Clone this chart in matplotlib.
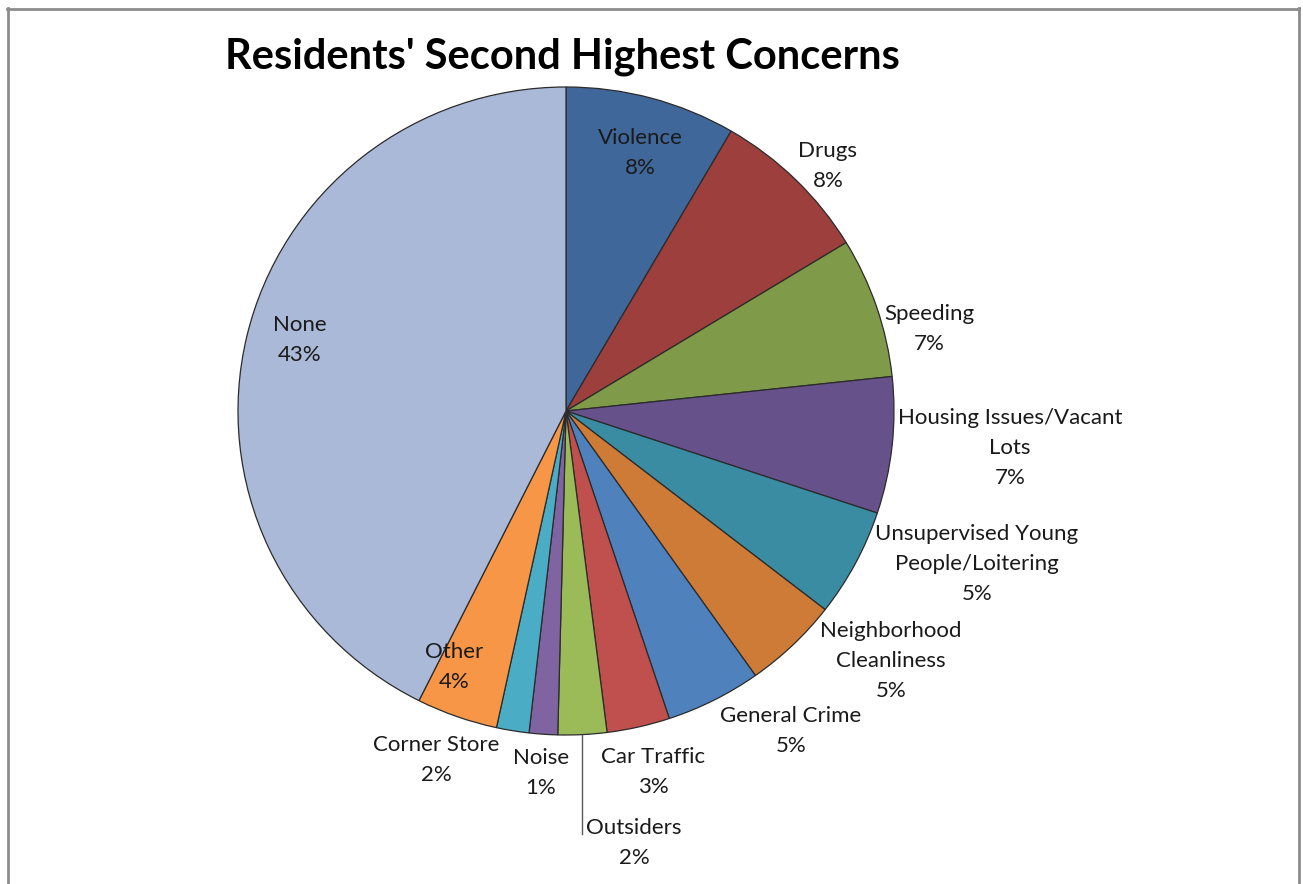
import matplotlib.pyplot as plt
from matplotlib.lines import Line2D
import numpy as np

plt.rcParams['font.family'] = ['Lato', 'DejaVu Sans']

# data (percent of residents)
categories = ["Violence", "Drugs", "Speeding", "Housing Issues/Vacant\nLots",
              "Unsupervised Young\nPeople/Loitering", "Neighborhood\nCleanliness",
              "General Crime", "Car Traffic", "Outsiders", "Noise",
              "Corner Store", "Other", "None"]
shares = [8.4, 7.9, 7.0, 6.8, 5.4, 4.7, 4.7, 3.1, 2.4, 1.4, 1.6, 4.0, 42.6]

colors = ["#3F679A", "#9C3F3D", "#7F9A48", "#67518A", "#3A8CA3", "#CE7B37",
          "#4F81BD", "#C0504D", "#9BBB59", "#8064A2", "#4BACC6", "#F79646",
          "#AAB9D7"]

W, H = 1303, 884
cx, cy = 566, 411        # pie centre in pixels
Rx, Ry = 328, 324        # pie radius in pixels (slightly squashed, as in the source)

# label centres in pixels
label_px = [(640, 153), (828, 166), (929, 329), (1010, 448), (977, 564),
            (891, 661), (791, 731), (653, 772), (634, 843), (541, 773),
            (436, 760), (454, 667), (300, 340)]

fig = plt.figure(figsize=(W / 100, H / 100), dpi=100)
ax = fig.add_axes([0, 0, 1, 1])

wedges, _ = ax.pie(shares, colors=colors, startangle=90, counterclock=False,
                   radius=1, wedgeprops=dict(edgecolor="#2b2b2b", linewidth=0.9))

ax.set_xlim(-cx / Rx, (W - cx) / Rx)
ax.set_ylim(-(H - cy) / Ry, cy / Ry)
ax.set_aspect('auto')
ax.axis('off')

for i, (name, v) in enumerate(zip(categories, shares)):
    px, py = label_px[i]
    x, y = (px - cx) / Rx, (cy - py) / Ry
    if name == "Outsiders":
        # leader line from the wedge edge down to the label
        w = wedges[i]
        mid = np.deg2rad((w.theta1 + w.theta2) / 2)
        ex, ey = np.cos(mid), np.sin(mid)
        ax.plot([ex, ex], [ey, (cy - 834) / Ry], color="#595959", lw=1.0)
    ax.text(x, y, f"{name}\n{round(v)}%", ha='center', va='center',
            fontsize=16, color="#1a1a1a", linespacing=1.6)

fig.text(225 / W, 1 - 57 / H, "Residents' Second Highest Concerns",
         ha='left', va='center', fontsize=30, fontweight='bold', color='black')

# chart area border
bc = "#8c8c8c"
fig.add_artist(Line2D([7.5 / W, 7.5 / W], [0, 1 - 8 / H], transform=fig.transFigure, color=bc, lw=2))
fig.add_artist(Line2D([7 / W, 1299 / W], [1 - 8.5 / H, 1 - 8.5 / H], transform=fig.transFigure, color=bc, lw=2))
fig.add_artist(Line2D([1298.5 / W, 1298.5 / W], [0, 1 - 8 / H], transform=fig.transFigure, color=bc, lw=2))

fig.savefig("out.png", dpi=100, facecolor="white")
